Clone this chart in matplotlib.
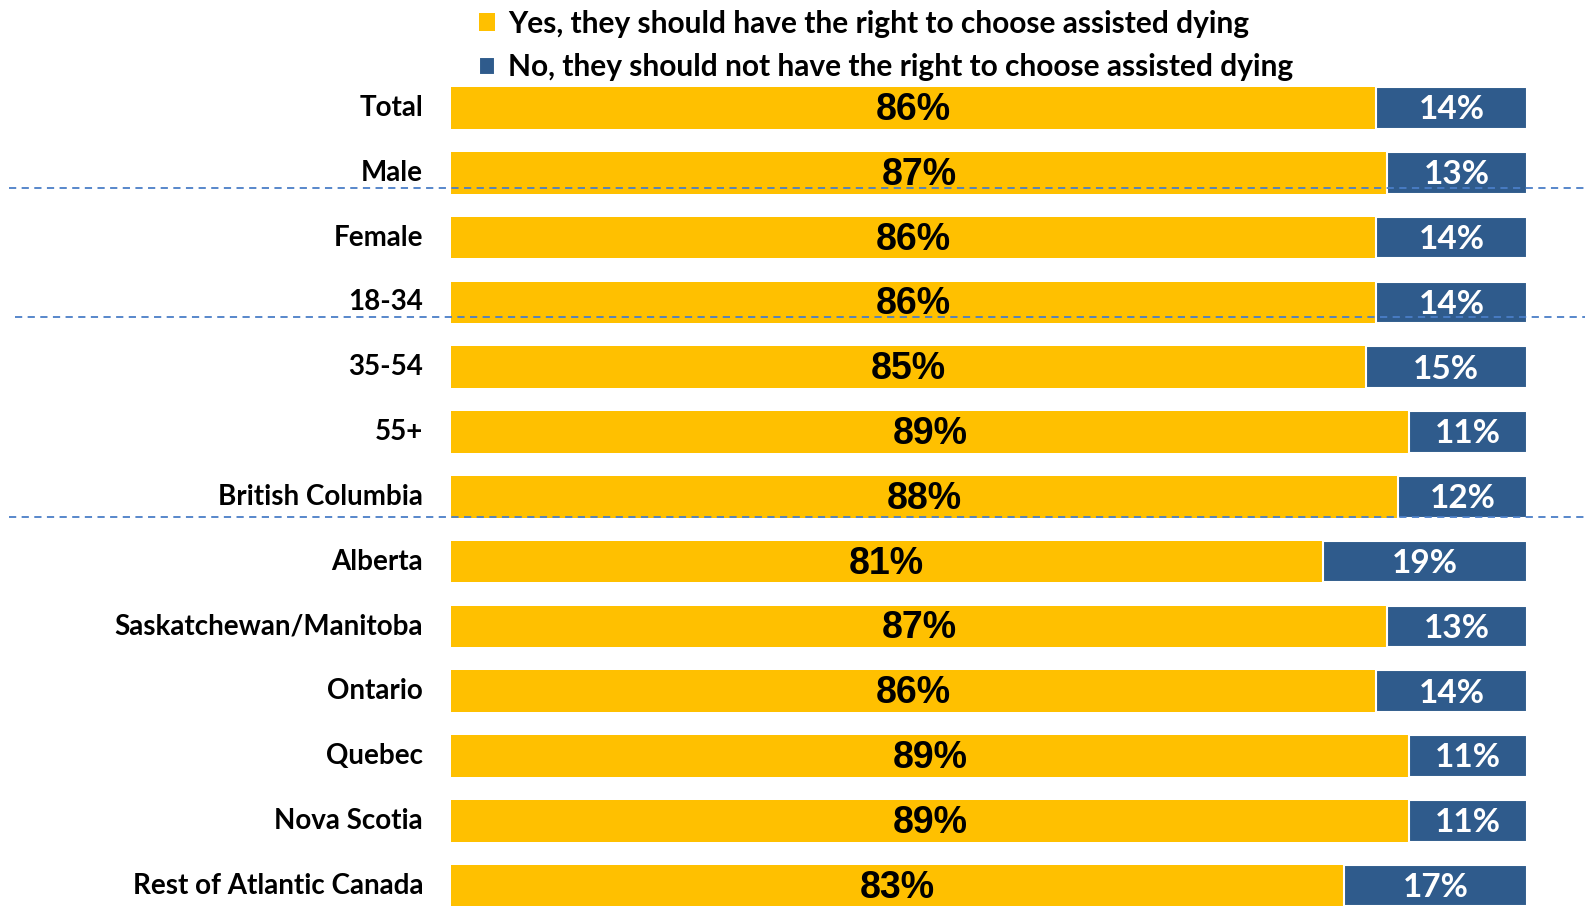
import matplotlib.pyplot as plt

categories = ["Total", "Male", "Female", "18-34", "35-54", "55+", "British Columbia",
              "Alberta", "Saskatchewan/Manitoba", "Ontario", "Quebec", "Nova Scotia",
              "Rest of Atlantic Canada"]
yes_vals = [86, 87, 86, 86, 85, 89, 88, 81, 87, 86, 89, 89, 83]
no_vals = [14, 13, 14, 14, 15, 11, 12, 19, 13, 14, 11, 11, 17]
series_names = ["Yes, they should have the right to choose assisted dying",
                "No, they should not have the right to choose assisted dying"]
# dashed separators (row position, start x in data units)
separators = [(1.24, -41.1), (3.22, -40.5), (6.31, -41.1)]

YELLOW = "#FFC000"
BLUE = "#2F5B8C"
LABEL_FONT = "Lato"

fig = plt.figure(figsize=(15.85, 9.09), dpi=100)
ax = fig.add_axes([0, 0, 1, 1])

# map pixel layout: bars start at px 451, 100% at px 1527; rows at 108 + 64.8*i
px_per_unit = (1527 - 451) / 100
ax.set_xlim(-451 / px_per_unit, (1585 - 451) / px_per_unit)
ax.set_ylim((909 - 108) / 64.8, -108 / 64.8)
ax.axis("off")

y = list(range(len(categories)))
b1 = ax.barh(y, yes_vals, height=0.64, color=YELLOW, label=series_names[0])
b2 = ax.barh(y, no_vals, left=yes_vals, height=0.64, color=BLUE,
             edgecolor="white", linewidth=1.5, label=series_names[1])

for i, (a, b) in enumerate(zip(yes_vals, no_vals)):
    ax.text(a / 2, i + 0.03, f"{a}%", ha="center", va="center", fontsize=27,
            fontweight="bold", family="Liberation Sans", color="black")
    ax.text(a + b / 2, i + 0.03, f"{b}%", ha="center", va="center", fontsize=24,
            fontweight="bold", family=LABEL_FONT, color="white")
    ax.text(-2.6, i, categories[i], ha="right", va="center", fontsize=20,
            fontweight="bold", family=LABEL_FONT, color="black")

for pos, x0 in separators:
    ax.plot([x0, 106], [pos, pos], color="#4A7EC7", linestyle=(0, (4, 3)),
            linewidth=1.3, zorder=5)

leg = fig.legend(handles=[b1, b2], loc="upper left", bbox_to_anchor=(0.285, 1.019),
                 frameon=False, handlelength=0.55, handleheight=0.55, handletextpad=0.45,
                 labelspacing=0.53, prop={"family": LABEL_FONT, "weight": "bold", "size": 21.5})

fig.savefig("out.png", dpi=100)
